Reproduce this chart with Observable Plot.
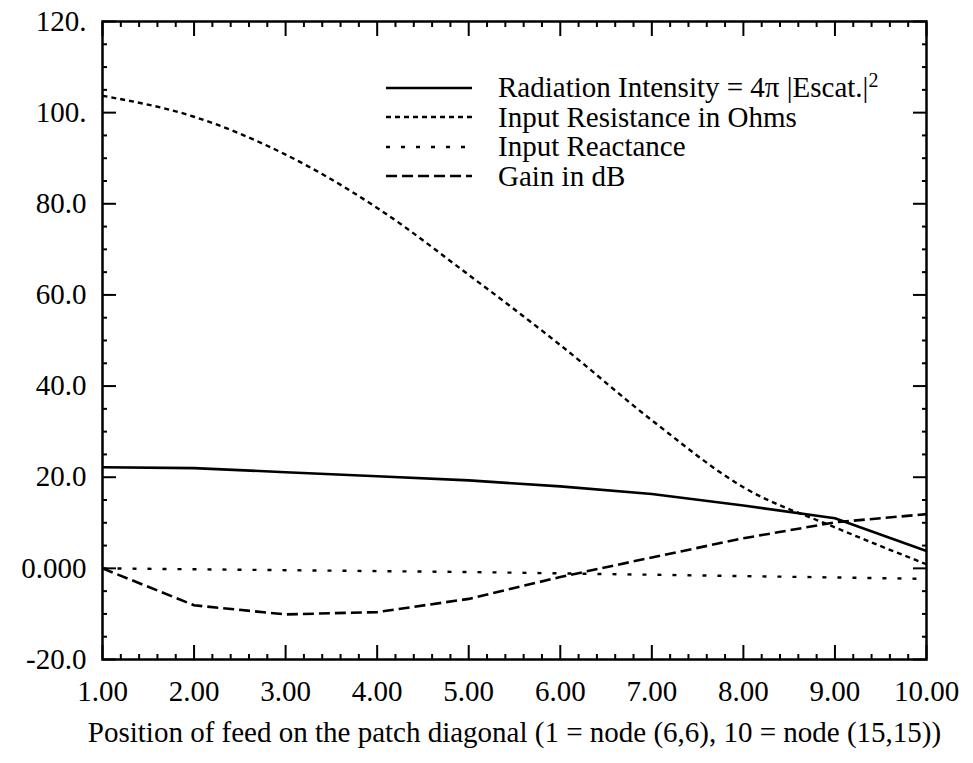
<!DOCTYPE html>
<html>
<head>
<meta charset="utf-8">
<script src="https://cdn.jsdelivr.net/npm/d3@7"></script>
<script src="https://cdn.jsdelivr.net/npm/@observablehq/plot@0.6"></script>
<style>
  html, body { margin: 0; padding: 0; background: #fff; }
  #wrap { position: relative; width: 973px; height: 763px; color: #000; }
  #legend { position: absolute; left: 386px; top: 73px; font-family: "Liberation Serif", "Times New Roman", serif; font-size: 29px; line-height: 29.5px; color: #000; }
  #legend .row { display: flex; align-items: center; height: 29.5px; white-space: nowrap; }
  #legend svg { width: 88px; height: 10px; margin-right: 24px; flex: none; }
  #legend sup { font-size: 20px; position: relative; top: -3px; vertical-align: top; line-height: 1; }
</style>
</head>
<body>
<div id="wrap"></div>
<script>
// ---- data ----
const positions   = [1, 2, 3, 4, 5, 6, 7, 8, 9, 10];
const radiation   = [22.2, 22.0, 21.1, 20.2, 19.3, 18.0, 16.3, 13.8, 11.0, 3.8];
const resistance  = [103.7, 99.1, 90.8, 79.1, 64.4, 49.0, 32.5, 17.8, 9.0, 0.9];
const reactance   = [0.0, -0.2, -0.4, -0.6, -0.8, -1.1, -1.4, -1.7, -2.0, -2.3];
const gain        = [0.0, -8.1, -10.1, -9.6, -6.7, -1.9, 2.4, 6.6, 10.1, 11.9];

const seriesNames = [
  "Radiation Intensity = 4π |Escat.|",
  "Input Resistance in Ohms",
  "Input Reactance",
  "Gain in dB"
];
const xTickValues = [1, 2, 3, 4, 5, 6, 7, 8, 9, 10];
const xTickLabels = ["1.00", "2.00", "3.00", "4.00", "5.00", "6.00", "7.00", "8.00", "9.00", "10.00"];
const yTickValues = [-20, 0, 20, 40, 60, 80, 100, 120];
const yTickLabels = ["-20.0", "0.000", "20.0", "40.0", "60.0", "80.0", "100.", "120."];
const xLabel = "Position of feed on the patch diagonal (1 = node (6,6), 10 = node (15,15))";

// ---- styles ----
const styles = [
  {strokeWidth: 2.6, strokeDasharray: null, curve: "linear"},
  {strokeWidth: 2.4, strokeDasharray: "5,4", curve: "monotone-x"},
  {strokeWidth: 2.4, strokeDasharray: "4,11", curve: "linear"},
  {strokeWidth: 2.6, strokeDasharray: "11,5", curve: "linear"}
];
const seriesValues = [radiation, resistance, reactance, gain];

const rows = seriesValues.map((vals, s) => positions.map((x, i) => ({x, y: vals[i], s})));

// minor ticks
const xMinor = d3.range(1, 10.0001, 0.2).map(v => +v.toFixed(2)).filter(v => !xTickValues.includes(v));
const yMinor = d3.range(-20, 120.0001, 5).filter(v => !yTickValues.includes(v));

const xFmt = v => xTickLabels[xTickValues.indexOf(v)];
const yFmt = v => yTickLabels[yTickValues.indexOf(v)];

const tickAxes = [];
for (const anchor of ["bottom", "top"]) {
  tickAxes.push(Plot.axisX({anchor, ticks: xMinor, tickSize: -5, text: null, label: null, strokeWidth: 2}));
  tickAxes.push(Plot.axisX({anchor, ticks: xTickValues, tickSize: -14, text: null, label: null, strokeWidth: 2}));
}
for (const anchor of ["left", "right"]) {
  tickAxes.push(Plot.axisY({anchor, ticks: yMinor, tickSize: -5, text: null, label: null, strokeWidth: 2}));
  tickAxes.push(Plot.axisY({anchor, ticks: yTickValues, tickSize: -14, text: null, label: null, strokeWidth: 2}));
}

const chart = Plot.plot({
  width: 973,
  height: 763,
  marginLeft: 102,
  marginRight: 47,
  marginTop: 21,
  marginBottom: 104,
  style: {fontFamily: "'Liberation Serif', 'Times New Roman', serif", color: "#000", background: "#fff", overflow: "visible"},
  x: {domain: [1, 10]},
  y: {domain: [-20, 120]},
  marks: [
    ...rows.map((r, s) => Plot.line(r, {x: "x", y: "y", curve: styles[s].curve, stroke: "#000", strokeWidth: styles[s].strokeWidth, strokeDasharray: styles[s].strokeDasharray, strokeLinecap: "butt"})),
    ...tickAxes,
    Plot.axisX({anchor: "bottom", ticks: xTickValues, tickSize: 0, tickPadding: 21, tickFormat: xFmt, fontSize: 29,
                label: xLabel, labelAnchor: "center", labelOffset: 82, labelArrow: "none"}),
    Plot.axisY({anchor: "left", ticks: yTickValues, tickSize: 0, tickPadding: 16, tickFormat: yFmt, fontSize: 29, label: null}),
    Plot.frame({stroke: "#000", strokeWidth: 2.5})
  ]
});

chart.querySelectorAll("text").forEach(t => {
  if (t.textContent === xLabel) t.setAttribute("font-size", "29");
});

const wrap = document.getElementById("wrap");
wrap.appendChild(chart);

// legend (HTML overlay)
const legend = document.createElement("div");
legend.id = "legend";
seriesNames.forEach((name, s) => {
  const row = document.createElement("div");
  row.className = "row";
  const da = styles[s].strokeDasharray ? `stroke-dasharray="${styles[s].strokeDasharray}"` : "";
  row.innerHTML = `<svg viewBox="0 0 88 10"><line x1="0" y1="5" x2="86" y2="5" stroke="#000" stroke-width="${styles[s].strokeWidth}" ${da}/></svg><span>${name}${s === 0 ? "<sup>2</sup>" : ""}</span>`;
  legend.appendChild(row);
});
wrap.appendChild(legend);
</script>
</body>
</html>
